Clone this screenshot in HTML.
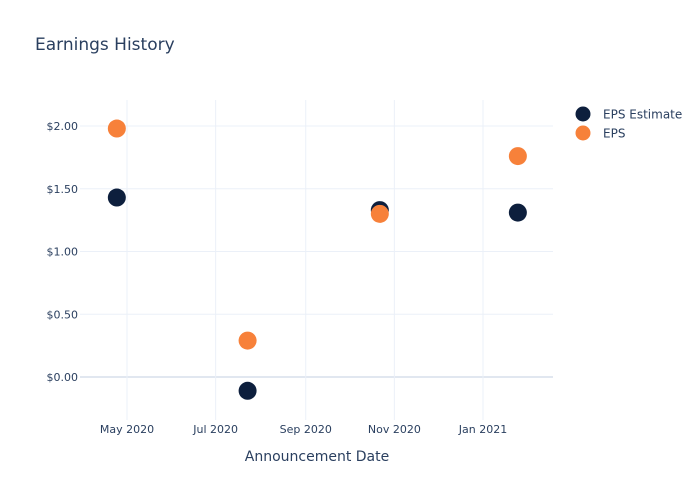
<!DOCTYPE html>
<html><head><meta charset="utf-8"><style>
body{margin:0;background:#fff;font-family:"DejaVu Sans",sans-serif;}
svg text{font-family:"DejaVu Sans",sans-serif;fill:#2a3f5f;}
</style></head><body>
<svg id="chart" width="700" height="500">
<text x="35" y="50" font-size="17">Earnings History</text>
<g id="grid"></g><g id="marks"></g>
<text x="317" y="461" font-size="14" text-anchor="middle">Announcement Date</text>
<g>
<circle cx="583" cy="114" r="7.5" fill="#0d1f3d"/>
<text x="603" y="118.5" font-size="12">EPS Estimate</text>
<circle cx="583" cy="133" r="7.5" fill="#f7813a"/>
<text x="603" y="137.5" font-size="12">EPS</text>
</g>
</svg>
<script>
const dates=["2020-04-24","2020-07-23","2020-10-22","2021-01-25"];
const estimates=[1.43,-0.11,1.33,1.31];
const actuals=[1.98,0.29,1.30,1.76];
const yTicks=[0,0.5,1,1.5,2];
const yTickLabels=["$0.00","$0.50","$1.00","$1.50","$2.00"];
const xTicks=["2020-05-01","2020-07-01","2020-09-01","2020-11-01","2021-01-01"];
const xTickLabels=["May 2020","Jul 2020","Sep 2020","Nov 2020","Jan 2021"];
const NS="http://www.w3.org/2000/svg";
const PL=80,PR=553,PT=100,PB=420;
const day=864e5,d0=Date.parse("2020-05-01");
function xs(d){return 127+(Date.parse(d)-d0)/day*1.453;}
function ys(v){return 377-v*125.5;}
function mk(tag,a,p){const e=document.createElementNS(NS,tag);for(const k in a)e.setAttribute(k,a[k]);p.appendChild(e);return e;}
const g=document.getElementById('grid'),m=document.getElementById('marks');
yTicks.forEach((v,i)=>{const y=ys(v);
const l=mk('line',{x1:PL,x2:PR,y1:y,y2:y,stroke:v===0?'#e1e7f0':'#ebf0f8','stroke-width':v===0?2:1},g);


const t=mk('text',{x:PL-2,y:y+4,'font-size':11,'text-anchor':'end'},g);t.textContent=yTickLabels[i];

});
xTicks.forEach((d,i)=>{const x=xs(d);
const l=mk('line',{x1:x,x2:x,y1:PT,y2:PB,stroke:'#ebf0f8'},g);


const t=mk('text',{x:x,y:433,'font-size':11,'text-anchor':'middle'},g);t.textContent=xTickLabels[i];

});
dates.forEach((d,i)=>{
const c=mk('circle',{cx:xs(d),cy:ys(estimates[i]),r:9,fill:'#0d1f3d'},m);

});
dates.forEach((d,i)=>{
const c=mk('circle',{cx:xs(d),cy:ys(actuals[i]),r:9,fill:'#f7813a'},m);

});
</script>
</body></html>
